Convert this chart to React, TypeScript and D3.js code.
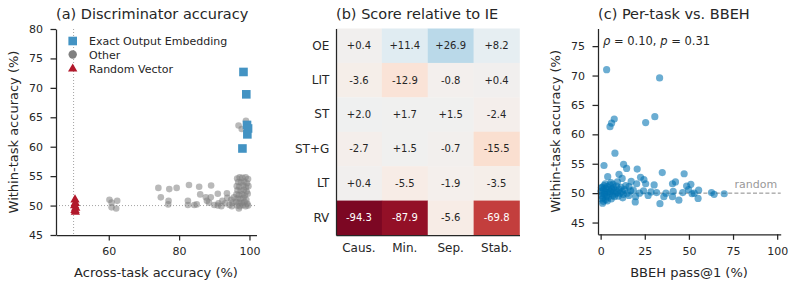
import React, { useEffect, useRef } from 'react'
import * as d3 from 'd3'

// (a) discriminator accuracy: across-task (x) vs within-task (y)
const oeAcross = [98.3, 99.1, 99.3, 99.6, 99.4, 98.0]
const oeWithin = [72.7, 68.9, 63.7, 63.1, 62.1, 59.7]

const otherAcross = [
  96.9, 99.0, 97.8,
  60.2, 60.8, 62.4, 60.8, 62.1,
  74.1, 74.8, 77.2, 77.0, 76.9, 79.3, 82.8, 82.5, 82.5, 84.3, 85.0, 85.7, 86.0, 87.6, 87.9,
  89.1, 89.0, 88.5, 90.0, 91.0, 91.2, 91.0, 92.3, 92.0, 93.6, 93.7, 93.1, 94.3, 94.8, 95.0, 95.2, 95.6,
  96.5, 97.2, 98.0, 98.9, 99.6, 96.8, 97.6, 98.5, 99.3, 96.4, 97.1, 98.2, 99.0, 99.7,
  96.6, 97.5, 98.4, 99.2, 96.3, 97.0, 97.9, 98.7, 99.5, 96.6, 97.4, 98.3, 99.1,
  96.2, 97.1, 97.8, 98.6, 99.4, 96.5, 97.3, 98.1, 98.9, 97.0, 99.6,
]
const otherWithin = [
  63.6, 64.4, 63.0,
  51.0, 50.5, 50.8, 49.7, 49.5,
  53.0, 51.4, 52.8, 50.8, 50.2, 53.0, 53.5, 50.8, 50.1, 50.1, 50.2, 53.2, 51.9, 51.4, 50.8,
  53.4, 51.4, 50.5, 50.1, 52.0, 50.4, 50.0, 50.8, 49.9, 52.1, 51.3, 50.4, 50.1, 51.0, 49.9, 50.5, 51.4,
  54.6, 54.8, 54.7, 54.8, 54.5, 54.0, 53.9, 54.1, 53.8, 53.3, 53.2, 53.4, 53.1, 53.3,
  52.6, 52.5, 52.7, 52.4, 51.9, 51.8, 51.9, 51.7, 52.0, 51.2, 51.1, 51.3, 51.0,
  50.6, 50.5, 50.4, 50.6, 50.3, 50.0, 49.9, 50.1, 49.9, 49.5, 50.0,
]

const rvAcross = [50.4, 50.5, 50.3, 50.6, 50.4, 50.5]
const rvWithin = [51.0, 50.4, 50.0, 49.6, 49.2, 48.9]

// (b) score change relative to IE, per method and criterion
const methodNames = ['OE', 'LIT', 'ST', 'ST+G', 'LT', 'RV']
const criterionNames = ['Caus.', 'Min.', 'Sep.', 'Stab.']
const oeScores = [0.4, 11.4, 26.9, 8.2]
const litScores = [-3.6, -12.9, -0.8, 0.4]
const stScores = [2.0, 1.7, 1.5, -2.4]
const stgScores = [-2.7, 1.5, -0.7, -15.5]
const ltScores = [0.4, -5.5, -1.9, -3.5]
const rvScores = [-94.3, -87.9, -5.6, -69.8]

// (c) per-task within-task accuracy vs BBEH pass@1
const bbehPass = [
  3.4, 33.4, 7.7, 6.2, 5.3, 25.5, 30.7, 8.1,
  1.9, 13.0, 14.7, 20.7, 10.4, 4.0, 12.2, 22.6, 24.5, 34.9, 47.3, 42.4, 40.7, 30.3, 25.5, 17.3,
  48.7, 51.1, 49.8, 55.5, 62.8, 64.3, 70.0, 55.2, 44.3, 33.6, 51.8, 41.1, 40.7, 35.8, 31.7, 26.9,
  24.3, 19.8, 19.6, 1.1, 20.4, 9.5, 7.0, 16.0, 18.5, 22.0, 28.5, 37.0, 46.5, 53.0, 12.5,
  0.2, 0.5, 0.8, 1.0, 1.3, 1.6, 1.9, 2.2, 2.5, 2.8, 3.1, 3.4, 3.7, 4.0, 4.3, 4.6, 5.0, 5.3, 5.6,
  6.0, 6.3, 6.7, 7.0, 7.4, 7.8, 8.2, 8.6, 9.0, 9.5, 10.0, 10.5, 11.0, 11.6, 12.2, 12.8, 13.5,
  14.2, 15.0, 16.0, 17.0, 0.4, 1.5, 2.6, 3.8, 5.8, 0.6,
]
const taskWithin = [
  71.0, 69.6, 62.6, 61.9, 61.3, 62.0, 63.0, 56.8,
  54.7, 54.9, 54.2, 54.1, 53.2, 52.8, 52.5, 52.7, 52.3, 53.5, 53.3, 51.9, 51.6, 51.4, 51.6, 52.0,
  51.2, 51.5, 50.6, 50.5, 50.1, 49.8, 49.9, 49.1, 48.8, 48.2, 49.9, 50.3, 49.4, 49.4, 50.1, 49.6,
  50.4, 49.4, 48.5, 48.3, 51.6, 51.9, 51.5, 51.1, 50.5, 50.0, 50.2, 50.0, 50.1, 50.0, 49.2,
  50.3, 49.6, 51.0, 50.0, 49.2, 50.6, 51.3, 49.8, 50.2, 48.9, 50.8, 49.5, 51.1, 50.1, 49.3, 50.6, 49.9, 51.4, 50.3,
  49.0, 50.7, 49.6, 50.2, 50.9, 49.4, 50.5, 49.9, 51.2, 50.1, 49.5, 50.7, 50.0, 51.0, 50.3, 49.8, 50.6,
  51.3, 50.0, 49.6, 50.4, 50.9, 48.6, 51.6, 48.7, 51.8, 49.0,
]

const FONT = "'DejaVu Sans', sans-serif"
const INK = '#262626'

const styleAxis = (g: any, size: number) => {
  g.attr('font-family', FONT).attr('font-size', size)
  g.select('.domain').attr('stroke', INK).attr('stroke-width', 1.25)
  g.selectAll('.tick line').attr('stroke', INK).attr('stroke-width', 1.25)
  g.selectAll('.tick text').attr('fill', INK)
}

const App = () => {
  const svgRef = useRef<SVGSVGElement>(null)

  useEffect(() => {
    const svg = d3.select(svgRef.current)
    svg.selectAll('*').remove()

    const title = (x: number, txt: string) =>
      svg.append('text').attr('x', x).attr('y', 18.5).attr('font-family', FONT)
        .attr('font-size', 14.5).attr('fill', INK).text(txt)
    const xLabel = (x: number, txt: string) =>
      svg.append('text').attr('x', x).attr('y', 276.5).attr('text-anchor', 'middle')
        .attr('font-family', FONT).attr('font-size', 13).attr('fill', INK).text(txt)
    const yLabel = (x: number, y: number, txt: string) =>
      svg.append('text').attr('transform', `translate(${x},${y}) rotate(-90)`)
        .attr('text-anchor', 'middle').attr('font-family', FONT).attr('font-size', 13)
        .attr('fill', INK).text(txt)

    // ---------- (a) ----------
    const xA = d3.scaleLinear().domain([45, 102]).range([56, 256.5])
    const yA = d3.scaleLinear().domain([45, 80]).range([235, 29])

    // chance lines
    svg.append('line').attr('x1', xA(50)).attr('x2', xA(50)).attr('y1', yA(80)).attr('y2', yA(45))
      .attr('stroke', '#999').attr('stroke-width', 0.9).attr('stroke-dasharray', '1,2')
    svg.append('line').attr('x1', xA(45)).attr('x2', xA(102)).attr('y1', yA(50)).attr('y2', yA(50))
      .attr('stroke', '#999').attr('stroke-width', 0.9).attr('stroke-dasharray', '1,2')

    svg.append('g').selectAll('circle').data(otherAcross).join('circle')
      .attr('cx', d => xA(d)).attr('cy', (d, i) => yA(otherWithin[i])).attr('r', 3.3)
      .attr('fill', '#808080').attr('fill-opacity', 0.55)

    svg.append('g').selectAll('rect').data(oeAcross).join('rect')
      .attr('x', d => xA(d) - 4.3).attr('y', (d, i) => yA(oeWithin[i]) - 4.3)
      .attr('width', 8.6).attr('height', 8.6).attr('fill', '#4393c3')

    const tri = d3.symbol().type(d3.symbolTriangle).size(38)
    svg.append('g').selectAll('path').data(rvAcross).join('path')
      .attr('d', tri).attr('transform', (d, i) => `translate(${xA(d)},${yA(rvWithin[i])})`)
      .attr('fill', '#b2182b')

    styleAxis(svg.append('g').attr('transform', 'translate(0,235)')
      .call(d3.axisBottom(xA).tickValues([60, 80, 100]).tickSize(5.5).tickPadding(7).tickSizeOuter(0)), 11)
    styleAxis(svg.append('g').attr('transform', 'translate(56,0)')
      .call(d3.axisLeft(yA).tickValues(d3.range(45, 81, 5)).tickSize(5.5).tickPadding(7.5).tickSizeOuter(0)), 11)

    // legend
    const lg = svg.append('g').attr('font-family', FONT).attr('font-size', 11).attr('fill', INK)
    lg.append('rect').attr('x', 68.4).attr('y', 36.7).attr('width', 8.6).attr('height', 8.6).attr('fill', '#4393c3')
    lg.append('circle').attr('cx', 72.7).attr('cy', 54.5).attr('r', 4.2).attr('fill', '#808080')
    lg.append('path').attr('d', tri).attr('transform', 'translate(72.7,68.8)').attr('fill', '#b2182b')
    ;['Exact Output Embedding', 'Other', 'Random Vector'].forEach((t, i) =>
      lg.append('text').attr('x', 89).attr('y', 41 + i * 13.9).attr('dy', '0.35em').text(t))

    title(56, '(a) Discriminator accuracy')
    xLabel(156, 'Across-task accuracy (%)')
    yLabel(17.5, 132, 'Within-task accuracy (%)')

    // ---------- (b) ----------
    const scoreRows = [oeScores, litScores, stScores, stgScores, ltScores, rvScores]
    const xB = d3.scaleBand().domain(criterionNames).range([336, 519.5])
    const yB = d3.scaleBand().domain(methodNames).range([28.5, 235])
    // RdBu centred on zero, clipped at +/-100
    const fillOf = d3.scaleDiverging(d3.interpolateRdBu).domain([-100, 0, 100])

    const cells = scoreRows.flatMap((row, r) =>
      row.map((v, c) => ({ method: methodNames[r], crit: criterionNames[c], v })))
    const hm = svg.append('g')
    hm.selectAll('rect').data(cells).join('rect')
      .attr('x', d => xB(d.crit)!).attr('y', d => yB(d.method)!)
      .attr('width', xB.bandwidth() + 0.3).attr('height', yB.bandwidth() + 0.3)
      .attr('fill', d => fillOf(d.v))
    hm.selectAll('text').data(cells).join('text')
      .attr('x', d => xB(d.crit)! + xB.bandwidth() / 2).attr('y', d => yB(d.method)! + yB.bandwidth() / 2)
      .attr('dy', '0.35em').attr('text-anchor', 'middle').attr('font-family', FONT).attr('font-size', 10)
      .attr('fill', d => (Math.abs(d.v) > 50 ? '#ffffff' : INK))
      .text(d => (d.v > 0 ? '+' : '') + d.v.toFixed(1))

    styleAxis(svg.append('g').attr('transform', 'translate(0,235)')
      .call(d3.axisBottom(xB).tickSize(0).tickPadding(8).tickSizeOuter(0)), 12)
    styleAxis(svg.append('g').attr('transform', 'translate(336,0)')
      .call(d3.axisLeft(yB).tickSize(0).tickPadding(6.7).tickSizeOuter(0)), 12)

    title(336, '(b) Score relative to IE')

    // ---------- (c) ----------
    const xC = d3.scaleLinear().domain([-1.5, 102]).range([598, 780.7])
    const yC = d3.scaleLinear().domain([43, 78]).range([234.3, 28.5])

    svg.append('line').attr('x1', xC(-1.5)).attr('x2', xC(102)).attr('y1', yC(50)).attr('y2', yC(50))
      .attr('stroke', '#888').attr('stroke-width', 1).attr('stroke-dasharray', '4,2.2')
    svg.append('text').attr('x', xC(100)).attr('y', yC(50) - 5).attr('text-anchor', 'end')
      .attr('font-family', FONT).attr('font-size', 11).attr('fill', '#999').text('random')

    svg.append('g').selectAll('circle').data(bbehPass).join('circle')
      .attr('cx', d => xC(d)).attr('cy', (d, i) => yC(taskWithin[i])).attr('r', 3.6)
      .attr('fill', '#0072b2').attr('fill-opacity', 0.58)

    styleAxis(svg.append('g').attr('transform', 'translate(0,234.3)')
      .call(d3.axisBottom(xC).tickValues([0, 25, 50, 75, 100]).tickSize(5.5).tickPadding(7).tickSizeOuter(0)), 11)
    styleAxis(svg.append('g').attr('transform', 'translate(598,0)')
      .call(d3.axisLeft(yC).tickValues(d3.range(45, 76, 5)).tickSize(5.5).tickPadding(7.5).tickSizeOuter(0)), 11)

    const note = svg.append('text').attr('x', 603).attr('y', 45).attr('font-family', FONT)
      .attr('font-size', 11.5).attr('fill', INK)
    note.append('tspan').attr('font-style', 'italic').text('ρ')
    note.append('tspan').text(' = 0.10, ')
    note.append('tspan').attr('font-style', 'italic').text('p')
    note.append('tspan').text(' = 0.31')

    title(598, '(c) Per-task vs. BBEH')
    xLabel(689, 'BBEH pass@1 (%)')
    yLabel(560, 131.4, 'Within-task accuracy (%)')
  }, [])

  return (
    <svg ref={svgRef} width={794} height={286}
      style={{ position: 'absolute', left: 0, top: 0, background: '#fff' }} />
  )
}

export default App
